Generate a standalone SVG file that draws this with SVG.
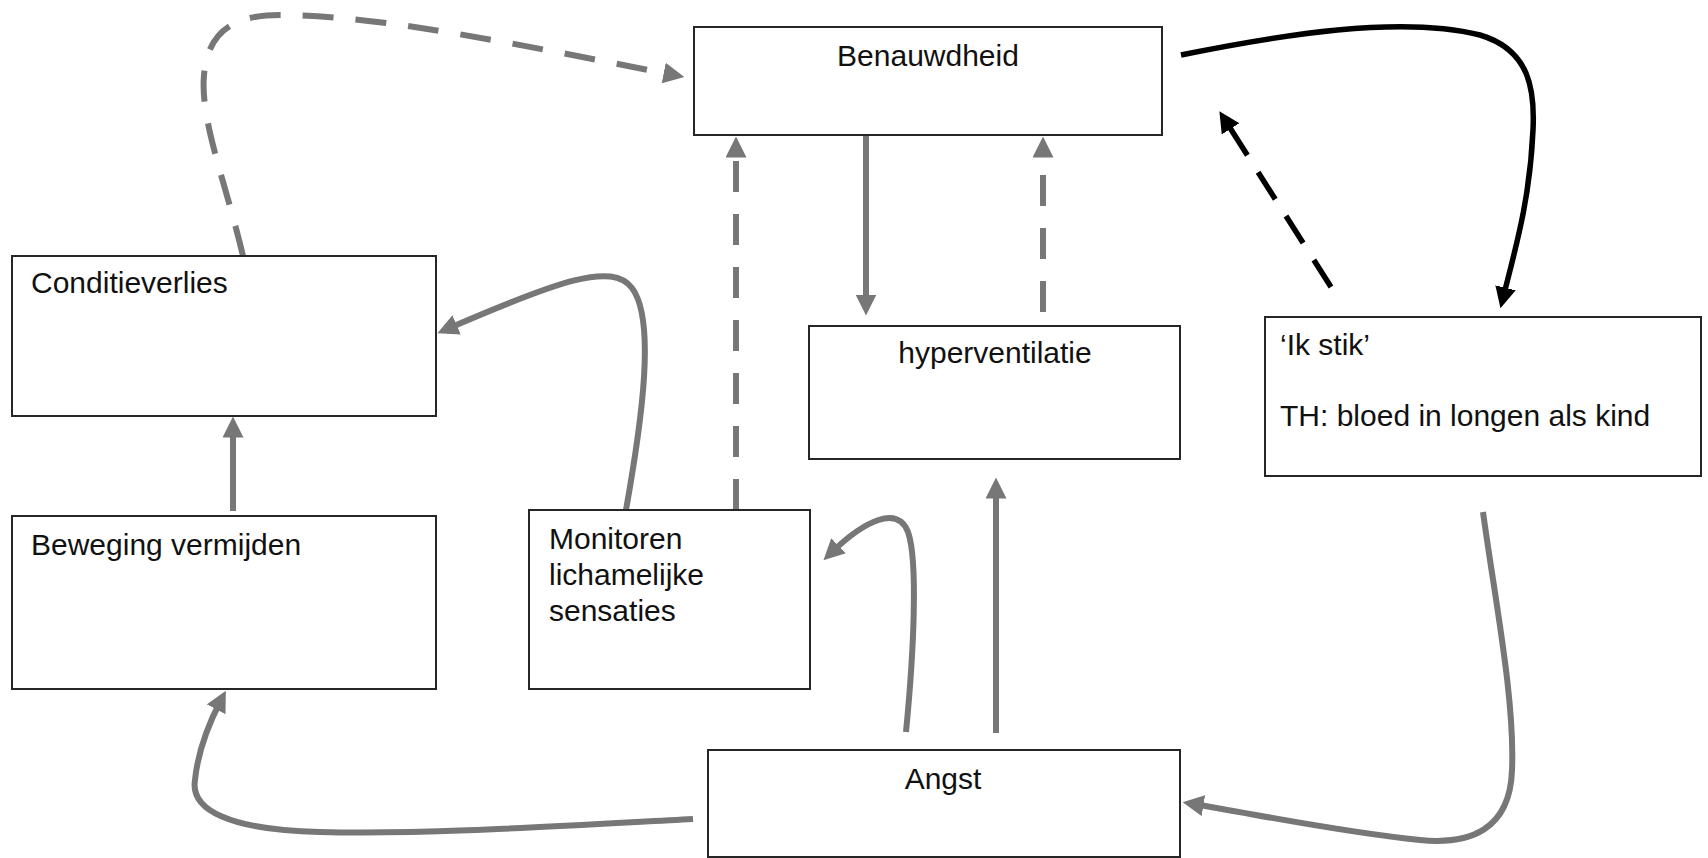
<svg xmlns="http://www.w3.org/2000/svg" width="1708" height="858" viewBox="0 0 1708 858">
  <style>
    .box { fill: #ffffff; stroke: #262626; stroke-width: 2; }
    .lbl { font-family: "Liberation Sans", Arial, sans-serif; font-size: 30px; fill: #111111; }
    .mid { text-anchor: middle; }
    .g { fill: none; stroke: #777777; stroke-width: 6; }
    .gd { fill: none; stroke: #777777; stroke-width: 6; stroke-dasharray: 31 22; }
    .k { fill: none; stroke: #000000; stroke-width: 5.5; }
    .kd { fill: none; stroke: #000000; stroke-width: 5.5; stroke-dasharray: 32 20; }
  </style>
  <defs>
    <marker id="ag" viewBox="0 0 20 20" refX="10" refY="10" markerWidth="21" markerHeight="21" markerUnits="userSpaceOnUse" orient="auto">
      <path d="M0,0 L20,10 L0,20 z" fill="#777777"/>
    </marker>
    <marker id="ak" viewBox="0 0 20 20" refX="10" refY="10" markerWidth="21" markerHeight="21" markerUnits="userSpaceOnUse" orient="auto">
      <path d="M0,0 L20,10 L0,20 z" fill="#000000"/>
    </marker>
  </defs>
  <rect width="1708" height="858" fill="#ffffff"/>

  <g id="connectors">
    <path class="gd" d="M 243 256 C 225 180, 200 120, 204 75 C 208 30, 235 15, 280 15 C 380 15, 520 45, 674 75" marker-end="url(#ag)"/>
    <path class="gd" d="M 736 510 L 736 147" marker-end="url(#ag)"/>
    <path class="g" d="M 866 135 L 866 305" marker-end="url(#ag)"/>
    <path class="gd" d="M 1043 312 L 1043 147" marker-end="url(#ag)"/>
    <path class="k" d="M 1181 55 C 1280 35, 1400 15, 1480 35 C 1530 50, 1535 90, 1533 130 C 1530 200, 1515 250, 1503 298" marker-end="url(#ak)"/>
    <path class="kd" d="M 1331 287 L 1225 120" marker-end="url(#ak)"/>
    <path class="g" d="M 626 510 C 642 420, 656 320, 632 288 C 612 262, 560 280, 447 329" marker-end="url(#ag)"/>
    <path class="g" d="M 233 511 L 233 427" marker-end="url(#ag)"/>
    <path class="g" d="M 693 819 C 560 826, 420 835, 320 832 C 230 830, 190 810, 195 780 C 198 750, 208 725, 221 700" marker-end="url(#ag)"/>
    <path class="g" d="M 906 732 C 914 650, 918 560, 908 532 C 898 505, 865 520, 831 553" marker-end="url(#ag)"/>
    <path class="g" d="M 996 733 L 996 488" marker-end="url(#ag)"/>
    <path class="g" d="M 1483 512 C 1495 600, 1515 700, 1512 770 C 1510 830, 1470 845, 1420 840 C 1340 832, 1260 815, 1193 804" marker-end="url(#ag)"/>
  </g>

  <g id="benauwdheid">
    <rect class="box" x="694" y="27" width="468" height="108"/>
    <text class="lbl mid" x="928" y="66">Benauwdheid</text>
  </g>
  <g id="hyperventilatie">
    <rect class="box" x="809" y="326" width="371" height="133"/>
    <text class="lbl mid" x="995" y="363">hyperventilatie</text>
  </g>
  <g id="ik-stik">
    <rect class="box" x="1265" y="317" width="436" height="159"/>
    <text class="lbl" x="1280" y="355">‘Ik stik’</text>
    <text class="lbl" x="1280" y="426">TH: bloed in longen als kind</text>
  </g>
  <g id="conditieverlies">
    <rect class="box" x="12" y="256" width="424" height="160"/>
    <text class="lbl" x="31" y="293">Conditieverlies</text>
  </g>
  <g id="beweging-vermijden">
    <rect class="box" x="12" y="516" width="424" height="173"/>
    <text class="lbl" x="31" y="555">Beweging vermijden</text>
  </g>
  <g id="monitoren">
    <rect class="box" x="529" y="510" width="281" height="179"/>
    <text class="lbl" x="549" y="549">Monitoren</text>
    <text class="lbl" x="549" y="585">lichamelijke</text>
    <text class="lbl" x="549" y="621">sensaties</text>
  </g>
  <g id="angst">
    <rect class="box" x="708" y="750" width="472" height="107"/>
    <text class="lbl mid" x="943" y="789">Angst</text>
  </g>
</svg>
